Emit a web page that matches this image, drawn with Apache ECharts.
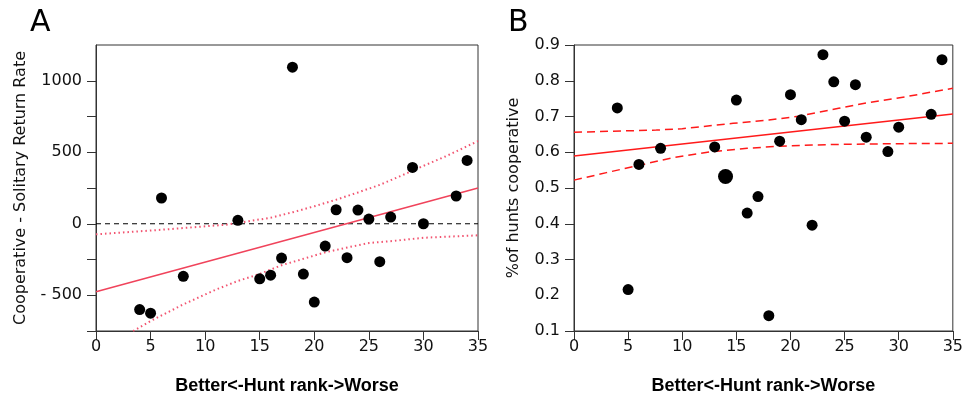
<!DOCTYPE html>
<html><head><meta charset="utf-8">
<script src="https://cdn.jsdelivr.net/npm/echarts@6/dist/echarts.min.js"></script>
<style>html,body{margin:0;padding:0;background:#fff}#c{width:966px;height:401px}</style>
</head><body><div id="c"></div>
<script>
// ---------- Panel A data ----------
const rankA = [4, 5, 6, 8, 13, 15, 16, 17, 18, 19, 20, 21, 22, 23, 24, 25, 26, 27, 29, 30, 33, 34];
const diffA = [-600, -625, 180, -368, 24, -385, -360, -240, 1095, -352, -548, -156, 98, -237, 96, 33, -265, 47, 394, 0, 194, 443];
const fitAX = [0, 35];
const fitAY = [-475, 250];
const upperAX = [0, 3, 6, 9, 12, 14, 16, 18, 20, 22, 24, 26, 28, 30, 32, 35];
const upperAY = [-74, -58, -42, -24, -6, 18, 42, 80, 122, 168, 219, 272, 337, 405, 470, 578];
const lowerAX = [3.4, 5, 8, 11, 13, 14.9, 17, 18.3, 21, 22.9, 25, 27.5, 30, 35];
const lowerAY = [-750, -680, -564, -460, -400, -354, -290, -261, -200, -168, -135, -118, -98, -81];
const zeroX = [0, 35];
const zeroY = [0, 0];
const yTicksA = [-750, -500, -250, 0, 250, 500, 750, 1000];
const yLabelsA = [-500, 0, 500, 1000];

// ---------- Panel B data ----------
const rankB = [4, 5, 6, 8, 13, 14, 15, 16, 17, 18, 19, 20, 21, 22, 23, 24, 25, 26, 27, 29, 30, 33, 34];
const coopB = [0.724, 0.216, 0.566, 0.611, 0.615, 0.532, 0.746, 0.430, 0.476, 0.143, 0.631, 0.761, 0.691, 0.396, 0.873, 0.797, 0.687, 0.789, 0.642, 0.602, 0.670, 0.706, 0.859];
const bigRankB = 14;
const fitBX = [0, 35];
const fitBY = [0.5895, 0.707];
const upperBX = [0, 5, 7.6, 10, 14.7, 18, 20.8, 24.45, 27, 30.6, 35];
const upperBY = [0.656, 0.660, 0.662, 0.666, 0.681, 0.690, 0.701, 0.723, 0.738, 0.755, 0.779];
const lowerBX = [0, 3, 6.1, 9, 12.8, 16, 18.95, 22, 24.45, 30, 35];
const lowerBY = [0.522, 0.543, 0.564, 0.584, 0.602, 0.611, 0.617, 0.620, 0.622, 0.624, 0.625];
const yTicksB = [0.1, 0.3, 0.4, 0.5, 0.6, 0.7, 0.8, 0.9];
const yLabelsB = [0.1, 0.2, 0.3, 0.4, 0.5, 0.6, 0.7, 0.8, 0.9];

const xTitle = 'Better<-Hunt rank->Worse';

const zip = (xs, ys) => xs.map((x, i) => [x, ys[i]]);
const FONT = 'DejaVu Sans';
const AX = '#333';

function xAxisCfg(gi) {
  return {
    type: 'value', gridIndex: gi, min: 0, max: 35, interval: 5,
    axisLine: { show: true, onZero: false, lineStyle: { color: AX, width: 1 } },
    axisTick: { show: true, length: 9, lineStyle: { color: AX } },
    axisLabel: { fontFamily: FONT, fontSize: 16, color: '#111', margin: 8 },
    splitLine: { show: false },
    name: xTitle, nameLocation: 'middle', nameGap: 46,
    nameTextStyle: { fontFamily: 'Liberation Sans', fontWeight: 'bold', fontSize: 18, color: '#000' }
  };
}

const chart = echarts.init(document.getElementById('c'), null, { renderer: 'canvas' });
chart.setOption({
  animation: false,
  backgroundColor: '#fff',
  title: [
    { text: 'A', left: 25, top: 3, textStyle: { fontFamily: FONT, fontSize: 30, fontWeight: 'normal', color: '#000' } },
    { text: 'B', left: 503, top: 3, textStyle: { fontFamily: FONT, fontSize: 30, fontWeight: 'normal', color: '#000' } }
  ],
  grid: [
    { left: 96, right: 488, top: 45, bottom: 70, show: true, borderColor: AX, borderWidth: 1, backgroundColor: 'transparent' },
    { left: 574, right: 10, top: 45, bottom: 70, show: true, borderColor: AX, borderWidth: 1, backgroundColor: 'transparent' }
  ],
  xAxis: [xAxisCfg(0), xAxisCfg(1)],
  yAxis: [
    {
      type: 'value', gridIndex: 0, min: -750, max: 1250, interval: 250,
      axisLine: { show: true, onZero: false, lineStyle: { color: AX, width: 1 } },
      axisTick: { show: true, length: 9, customValues: yTicksA, lineStyle: { color: AX } },
      axisLabel: { fontFamily: FONT, fontSize: 16, color: '#111', margin: 14, customValues: yLabelsA,
        formatter: v => v < 0 ? '- ' + Math.abs(v) : String(v) },
      splitLine: { show: false },
      name: 'Cooperative - Solitary Return Rate', nameLocation: 'middle', nameRotate: 90, nameGap: 67,
      nameTextStyle: { fontFamily: FONT, fontSize: 16, color: '#111' }
    },
    {
      type: 'value', gridIndex: 1, min: 0.1, max: 0.9, interval: 0.1,
      axisLine: { show: true, onZero: false, lineStyle: { color: AX, width: 1 } },
      axisTick: { show: true, length: 9, customValues: yTicksB, lineStyle: { color: AX } },
      axisLabel: { fontFamily: FONT, fontSize: 16, color: '#111', margin: 14, customValues: yLabelsB,
        formatter: v => v.toFixed(1) },
      splitLine: { show: false },
      name: '%of hunts cooperative', nameLocation: 'middle', nameRotate: 90, nameGap: 52,
      nameTextStyle: { fontFamily: FONT, fontSize: 16, color: '#111' }
    }
  ],
  series: [
    { type: 'line', xAxisIndex: 0, yAxisIndex: 0, data: zip(zeroX, zeroY), symbol: 'none', silent: true, z: 2,
      lineStyle: { color: '#000', width: 1, type: [5, 4] } },
    { type: 'line', xAxisIndex: 0, yAxisIndex: 0, data: zip(fitAX, fitAY), symbol: 'none', silent: true, z: 3,
      lineStyle: { color: '#f0435b', width: 1.5 } },
    { type: 'line', xAxisIndex: 0, yAxisIndex: 0, data: zip(upperAX, upperAY), symbol: 'none', silent: true, z: 3,
      lineStyle: { color: '#f25470', width: 2, type: [1.5, 3] } },
    { type: 'line', xAxisIndex: 0, yAxisIndex: 0, data: zip(lowerAX, lowerAY), symbol: 'none', silent: true, z: 3,
      lineStyle: { color: '#f25470', width: 2, type: [1.5, 3] } },
    { type: 'scatter', xAxisIndex: 0, yAxisIndex: 0, data: zip(rankA, diffA), symbolSize: 11, z: 5,
      itemStyle: { color: '#000', opacity: 1 } },

    { type: 'line', xAxisIndex: 1, yAxisIndex: 1, data: zip(fitBX, fitBY), symbol: 'none', silent: true, z: 3,
      lineStyle: { color: '#ff1a1a', width: 1.5 } },
    { type: 'line', xAxisIndex: 1, yAxisIndex: 1, data: zip(upperBX, upperBY), symbol: 'none', silent: true, z: 3,
      lineStyle: { color: '#ff1a1a', width: 1.5, type: [8, 5] } },
    { type: 'line', xAxisIndex: 1, yAxisIndex: 1, data: zip(lowerBX, lowerBY), symbol: 'none', silent: true, z: 3,
      lineStyle: { color: '#ff1a1a', width: 1.5, type: [8, 5] } },
    { type: 'scatter', xAxisIndex: 1, yAxisIndex: 1, data: zip(rankB, coopB), z: 5,
      symbolSize: (v) => v[0] === bigRankB ? 15 : 11,
      itemStyle: { color: '#000', opacity: 1 } }
  ]
});
</script>
</body></html>
